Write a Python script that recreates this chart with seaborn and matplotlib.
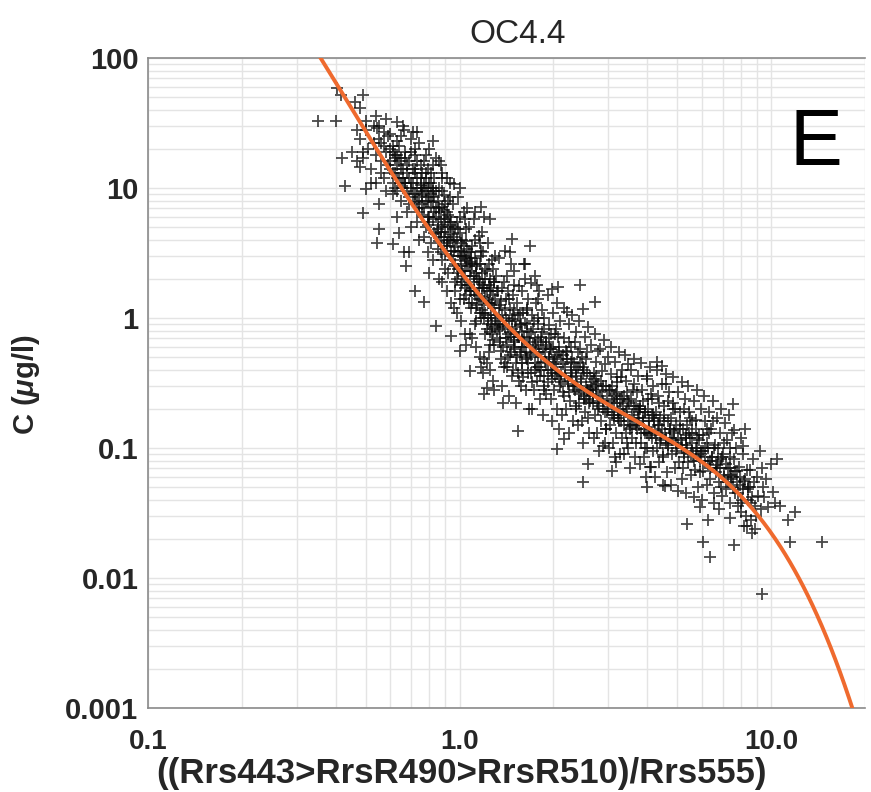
import numpy as np
import pandas as pd
import matplotlib
matplotlib.use("Agg")
import matplotlib.pyplot as plt
import seaborn as sns
from matplotlib.ticker import FixedLocator, LogLocator, NullFormatter

# ---------------- data ----------------
title = "OC4.4"
x_label = "((Rrs443>RrsR490>RrsR510)/Rrs555)"
y_label = "C ($\\mu$g/l)"
panel_letter = "E"
x_ticks = [0.1, 1.0, 10.0]
x_tick_labels = ["0.1", "1.0", "10.0"]
y_ticks = [0.001, 0.01, 0.1, 1, 10, 100]
y_tick_labels = ["0.001", "0.01", "0.1", "1", "10", "100"]

# OC4 v4 polynomial coefficients: log10(C) = sum a_i * log10(R)^i
oc4_coeffs = [0.366, -3.067, 1.930, 0.649, -1.532]

# in-situ points (band ratio, chlorophyll)
pts_high = [
    (0.48, 24), (0.49, 17), (0.50, 28), (0.51, 20), (0.52, 14), (0.50, 33), (0.53, 22), (0.52, 11), (0.49, 19), (0.53, 30),
    (0.54, 18), (0.55, 24), (0.56, 13), (0.57, 21), (0.58, 9.5), (0.55, 30), (0.56, 16), (0.57, 27), (0.58, 19), (0.54, 11),
    (0.59, 15), (0.56, 22), (0.58, 34), (0.55, 7.5), (0.57, 12), (0.59, 25),
    (0.60, 14), (0.61, 19), (0.62, 10), (0.63, 23), (0.64, 16), (0.65, 8.0), (0.66, 12), (0.60, 26), (0.61, 11), (0.62, 17),
    (0.63, 6.0), (0.64, 21), (0.65, 14), (0.66, 30), (0.61, 9.0), (0.62, 13), (0.63, 18), (0.64, 4.5), (0.65, 25), (0.60, 20),
    (0.66, 10), (0.63, 12),
    (0.67, 11), (0.68, 15), (0.69, 7.5), (0.70, 19), (0.71, 9.0), (0.72, 13), (0.73, 5.5), (0.74, 22), (0.75, 10), (0.67, 17),
    (0.68, 6.5), (0.69, 12), (0.70, 24), (0.71, 14), (0.72, 8.0), (0.73, 16), (0.74, 4.0), (0.75, 12), (0.68, 9.5), (0.70, 11),
    (0.72, 18), (0.74, 7.0), (0.69, 3.2), (0.71, 27), (0.73, 10), (0.75, 15), (0.70, 5.0), (0.72, 20),
    (0.76, 7.5), (0.77, 11), (0.78, 5.0), (0.79, 14), (0.80, 8.5), (0.81, 3.8), (0.82, 10), (0.83, 6.5), (0.84, 17), (0.76, 9.5),
    (0.77, 4.2), (0.78, 13), (0.79, 6.0), (0.80, 20), (0.81, 9.0), (0.82, 2.8), (0.83, 12), (0.84, 7.0), (0.77, 16), (0.78, 8.0),
    (0.79, 3.2), (0.80, 5.5), (0.81, 11), (0.82, 15), (0.83, 4.5), (0.84, 9.5), (0.76, 6.2), (0.78, 18), (0.80, 2.2), (0.82, 7.8),
    (0.79, 10), (0.81, 13),
    (0.85, 4.8), (0.86, 7.0), (0.87, 3.2), (0.88, 9.5), (0.89, 5.5), (0.90, 2.4), (0.91, 6.5), (0.92, 4.0), (0.93, 11), (0.94, 3.0),
    (0.85, 8.0), (0.86, 2.0), (0.87, 5.8), (0.88, 13), (0.89, 3.6), (0.90, 7.5), (0.91, 1.6), (0.92, 5.0), (0.93, 8.5), (0.94, 4.4),
    (0.86, 10), (0.87, 4.2), (0.88, 2.8), (0.89, 6.8), (0.90, 4.6), (0.91, 12), (0.92, 2.2), (0.93, 6.0), (0.94, 1.3), (0.85, 3.4),
    (0.87, 15), (0.89, 8.8), (0.91, 3.8), (0.93, 5.2), (0.88, 1.9),
]
pts_mid1 = [
    (0.95, 2.8), (0.96, 4.2), (0.97, 1.9), (0.98, 5.5), (0.99, 3.2), (1.00, 1.4), (1.01, 3.8), (1.02, 2.3), (1.03, 6.5), (1.04, 1.7),
    (1.05, 4.8), (1.06, 2.6), (0.95, 7.5), (0.96, 1.2), (0.97, 3.5), (0.98, 2.0), (0.99, 8.5), (1.00, 4.5), (1.01, 0.95), (1.02, 3.0),
    (1.03, 2.1), (1.04, 5.8), (1.05, 1.5), (1.06, 3.4), (0.96, 2.5), (0.98, 1.1), (1.00, 6.0), (1.02, 4.0), (1.04, 0.75), (1.06, 7.0),
    (0.97, 5.0), (0.99, 2.4), (1.01, 1.8), (1.03, 3.0), (1.05, 0.62), (0.95, 3.9), (1.00, 10), (1.04, 2.9),
    (1.07, 1.8), (1.08, 2.7), (1.09, 1.2), (1.10, 3.6), (1.11, 2.1), (1.12, 0.9), (1.13, 2.5), (1.14, 1.5), (1.15, 4.3), (1.16, 1.1),
    (1.17, 3.0), (1.18, 1.7), (1.07, 5.0), (1.08, 0.75), (1.09, 2.3), (1.10, 1.3), (1.11, 5.8), (1.12, 2.9), (1.13, 0.6), (1.14, 2.0),
    (1.15, 1.4), (1.16, 3.8), (1.17, 1.0), (1.18, 2.2), (1.08, 1.6), (1.10, 0.7), (1.12, 4.0), (1.14, 2.6), (1.16, 0.5), (1.18, 4.6),
    (1.09, 3.2), (1.11, 1.6), (1.13, 1.2), (1.15, 2.0), (1.17, 0.42), (1.07, 2.5), (1.12, 6.5), (1.16, 1.9),
    (1.19, 1.1), (1.20, 1.7), (1.21, 0.75), (1.22, 2.3), (1.23, 1.3), (1.24, 0.55), (1.25, 1.6), (1.26, 0.95), (1.27, 2.8), (1.28, 0.68),
    (1.29, 1.9), (1.30, 1.05), (1.19, 3.2), (1.20, 0.48), (1.21, 1.45), (1.22, 0.82), (1.23, 3.8), (1.24, 1.8), (1.25, 0.4), (1.26, 1.25),
    (1.27, 0.88), (1.28, 2.4), (1.29, 0.62), (1.30, 1.4), (1.20, 1.0), (1.22, 0.45), (1.24, 2.6), (1.26, 1.7), (1.28, 0.33), (1.30, 3.0),
    (1.21, 2.0), (1.23, 1.0), (1.25, 0.78), (1.27, 1.3), (1.29, 0.28), (1.32, 1.6), (1.33, 0.9), (1.31, 2.1),
    (1.34, 0.83), (1.35, 1.25), (1.36, 0.56), (1.37, 1.7), (1.38, 0.95), (1.39, 0.42), (1.40, 1.15), (1.41, 0.7), (1.42, 2.1), (1.43, 0.5),
    (1.44, 1.4), (1.45, 0.78), (1.46, 2.6), (1.47, 0.36), (1.48, 1.05), (1.49, 0.6), (1.34, 2.9), (1.35, 0.65), (1.36, 1.35), (1.37, 0.3),
    (1.38, 0.88), (1.39, 1.9), (1.40, 0.45), (1.41, 1.0), (1.42, 0.62), (1.43, 1.6), (1.44, 0.25), (1.45, 1.2), (1.46, 0.72), (1.47, 0.98),
    (1.48, 0.4), (1.49, 1.8), (1.35, 0.9), (1.40, 3.3), (1.45, 0.52), (1.38, 0.22),
]
pts_mid2 = [
    (1.50, 0.65), (1.51, 0.95), (1.52, 0.45), (1.53, 1.3), (1.54, 0.72), (1.55, 0.33), (1.56, 0.88), (1.57, 0.55), (1.58, 1.6), (1.59, 0.4),
    (1.60, 1.1), (1.61, 0.6), (1.62, 2.0), (1.63, 0.28), (1.64, 0.8), (1.65, 0.48), (1.66, 1.4), (1.67, 0.7), (1.50, 2.3), (1.52, 0.22),
    (1.54, 1.05), (1.56, 0.52), (1.58, 0.78), (1.60, 0.35), (1.62, 0.92), (1.64, 1.2), (1.66, 0.38), (1.51, 0.58), (1.55, 1.75), (1.59, 0.68),
    (1.63, 0.5), (1.67, 0.2), (1.57, 0.3), (1.61, 2.6),
    (1.68, 0.54), (1.69, 0.78), (1.70, 0.38), (1.71, 1.05), (1.72, 0.6), (1.73, 0.28), (1.74, 0.7), (1.75, 0.45), (1.76, 1.3), (1.77, 0.33),
    (1.78, 0.9), (1.79, 0.5), (1.80, 1.6), (1.81, 0.24), (1.82, 0.65), (1.83, 0.4), (1.84, 1.15), (1.85, 0.58), (1.86, 0.3), (1.87, 0.82),
    (1.88, 0.46), (1.69, 1.85), (1.71, 0.2), (1.73, 0.95), (1.75, 0.62), (1.77, 0.42), (1.79, 1.4), (1.81, 0.36), (1.83, 0.72), (1.85, 0.18),
    (1.87, 1.0), (1.80, 0.55),
    (1.89, 0.45), (1.90, 0.65), (1.92, 0.32), (1.93, 0.88), (1.94, 0.5), (1.96, 0.24), (1.97, 0.58), (1.98, 0.38), (2.00, 1.1), (2.01, 0.28),
    (2.02, 0.75), (2.04, 0.42), (2.05, 1.3), (2.06, 0.2), (2.08, 0.55), (2.09, 0.34), (2.10, 0.95), (2.11, 0.48), (1.90, 0.26), (1.92, 1.5),
    (1.94, 0.7), (1.96, 0.4), (1.98, 0.16), (2.00, 0.6), (2.02, 0.36), (2.04, 0.82), (2.06, 0.52), (2.08, 0.14), (2.10, 0.3), (2.01, 0.46),
    (2.12, 0.37), (2.14, 0.52), (2.15, 0.27), (2.17, 0.7), (2.18, 0.42), (2.20, 0.2), (2.21, 0.48), (2.23, 0.31), (2.24, 0.9), (2.26, 0.23),
    (2.27, 0.6), (2.29, 0.35), (2.30, 1.05), (2.32, 0.16), (2.33, 0.45), (2.35, 0.28), (2.36, 0.78), (2.37, 0.4), (2.13, 0.18), (2.16, 1.2),
    (2.19, 0.56), (2.22, 0.33), (2.25, 0.13), (2.28, 0.46), (2.31, 0.3), (2.34, 0.65), (2.36, 0.2), (2.27, 0.38),
]
pts_mid3 = [
    (2.38, 0.3), (2.40, 0.42), (2.42, 0.22), (2.43, 0.58), (2.45, 0.34), (2.47, 0.16), (2.48, 0.38), (2.50, 0.25), (2.52, 0.72), (2.53, 0.19),
    (2.55, 0.48), (2.57, 0.28), (2.58, 0.85), (2.60, 0.13), (2.62, 0.36), (2.63, 0.23), (2.65, 0.62), (2.66, 0.32), (2.39, 0.15), (2.41, 0.95),
    (2.44, 0.45), (2.46, 0.27), (2.49, 0.11), (2.51, 0.4), (2.54, 0.24), (2.56, 0.55), (2.59, 0.17), (2.64, 0.29),
    (2.67, 0.25), (2.69, 0.34), (2.71, 0.18), (2.73, 0.46), (2.75, 0.28), (2.77, 0.13), (2.79, 0.31), (2.81, 0.21), (2.83, 0.58), (2.85, 0.16),
    (2.87, 0.39), (2.89, 0.23), (2.91, 0.68), (2.93, 0.11), (2.95, 0.3), (2.97, 0.19), (2.99, 0.5), (2.68, 0.26), (2.70, 0.12), (2.72, 0.75),
    (2.74, 0.36), (2.76, 0.22), (2.80, 0.095), (2.84, 0.33), (2.88, 0.2), (2.92, 0.44), (2.96, 0.14), (2.86, 0.27),
    (3.00, 0.2), (3.02, 0.28), (3.04, 0.15), (3.06, 0.37), (3.08, 0.23), (3.10, 0.11), (3.12, 0.25), (3.14, 0.17), (3.16, 0.46), (3.18, 0.13),
    (3.20, 0.32), (3.22, 0.19), (3.24, 0.55), (3.26, 0.09), (3.28, 0.24), (3.30, 0.16), (3.32, 0.4), (3.34, 0.21), (3.01, 0.1), (3.05, 0.6),
    (3.09, 0.3), (3.13, 0.18), (3.17, 0.078), (3.21, 0.27), (3.25, 0.16), (3.29, 0.35), (3.33, 0.12), (3.19, 0.22),
    (3.36, 0.18), (3.38, 0.25), (3.41, 0.13), (3.43, 0.33), (3.45, 0.2), (3.48, 0.1), (3.50, 0.22), (3.52, 0.15), (3.55, 0.4), (3.57, 0.12),
    (3.59, 0.28), (3.62, 0.17), (3.64, 0.48), (3.66, 0.085), (3.69, 0.21), (3.71, 0.14), (3.73, 0.36), (3.76, 0.19), (3.37, 0.09), (3.40, 0.52),
    (3.44, 0.27), (3.47, 0.16), (3.51, 0.07), (3.54, 0.24), (3.58, 0.145), (3.63, 0.31), (3.68, 0.11), (3.74, 0.2),
]
pts_low1 = [
    (3.77, 0.15), (3.80, 0.21), (3.82, 0.11), (3.85, 0.28), (3.88, 0.17), (3.90, 0.085), (3.93, 0.19), (3.95, 0.13), (3.98, 0.34), (4.00, 0.1),
    (4.03, 0.24), (4.05, 0.145), (4.08, 0.42), (4.10, 0.072), (4.13, 0.18), (4.15, 0.12), (4.18, 0.3), (4.21, 0.16), (3.78, 0.075), (3.83, 0.45),
    (3.87, 0.23), (3.92, 0.14), (3.97, 0.06), (4.01, 0.2), (4.06, 0.125), (4.11, 0.26), (4.16, 0.095), (4.20, 0.17),
    (4.23, 0.135), (4.26, 0.19), (4.29, 0.1), (4.32, 0.25), (4.35, 0.15), (4.38, 0.078), (4.41, 0.17), (4.44, 0.115), (4.47, 0.31), (4.50, 0.088),
    (4.53, 0.21), (4.56, 0.13), (4.59, 0.37), (4.62, 0.065), (4.65, 0.16), (4.68, 0.105), (4.71, 0.27), (4.73, 0.14), (4.25, 0.06), (4.30, 0.4),
    (4.36, 0.22), (4.42, 0.125), (4.48, 0.052), (4.54, 0.18), (4.60, 0.11), (4.66, 0.23),
    (4.74, 0.12), (4.78, 0.17), (4.81, 0.09), (4.85, 0.22), (4.88, 0.135), (4.91, 0.07), (4.95, 0.15), (4.98, 0.1), (5.02, 0.27), (5.05, 0.078),
    (5.09, 0.19), (5.12, 0.115), (5.16, 0.32), (5.19, 0.058), (5.22, 0.14), (5.26, 0.092), (5.29, 0.24), (5.31, 0.125), (4.76, 0.052), (4.83, 0.35),
    (4.90, 0.2), (4.96, 0.11), (5.03, 0.047), (5.10, 0.16), (5.17, 0.1), (5.24, 0.2),
    (5.32, 0.105), (5.36, 0.15), (5.40, 0.078), (5.44, 0.19), (5.48, 0.12), (5.52, 0.062), (5.56, 0.13), (5.60, 0.088), (5.64, 0.23), (5.68, 0.068),
    (5.72, 0.165), (5.76, 0.1), (5.80, 0.28), (5.84, 0.05), (5.88, 0.125), (5.92, 0.08), (5.96, 0.2), (5.34, 0.045), (5.42, 0.3), (5.50, 0.17),
    (5.58, 0.095), (5.66, 0.042), (5.74, 0.14), (5.86, 0.115),
]
pts_low2 = [
    (5.97, 0.09), (6.02, 0.125), (6.06, 0.066), (6.11, 0.16), (6.15, 0.1), (6.20, 0.052), (6.24, 0.11), (6.29, 0.075), (6.33, 0.19), (6.38, 0.058),
    (6.42, 0.14), (6.47, 0.085), (6.51, 0.23), (6.56, 0.045), (6.60, 0.105), (6.64, 0.07), (6.68, 0.17), (6.00, 0.04), (6.09, 0.25), (6.22, 0.14),
    (6.36, 0.08), (6.54, 0.038),
    (6.70, 0.074), (6.75, 0.1), (6.80, 0.055), (6.85, 0.13), (6.90, 0.082), (6.95, 0.043), (7.00, 0.09), (7.05, 0.062), (7.10, 0.155), (7.15, 0.048),
    (7.20, 0.115), (7.25, 0.07), (7.30, 0.18), (7.35, 0.038), (7.40, 0.085), (7.45, 0.058), (7.50, 0.13), (6.78, 0.034), (6.92, 0.2), (7.08, 0.11),
    (7.52, 0.06), (7.58, 0.082), (7.64, 0.045), (7.70, 0.1), (7.76, 0.066), (7.82, 0.036), (7.88, 0.072), (7.94, 0.052), (8.00, 0.12), (8.06, 0.04),
    (8.12, 0.09), (8.18, 0.056), (8.24, 0.14), (8.30, 0.03), (8.36, 0.068), (8.40, 0.048),
    (8.45, 0.05), (8.55, 0.068), (8.64, 0.038), (8.73, 0.082), (8.82, 0.055), (8.91, 0.03), (9.00, 0.06), (9.10, 0.043), (9.20, 0.095), (9.28, 0.034),
    (9.35, 0.07), (9.40, 0.05), (9.50, 0.042), (9.65, 0.058), (9.80, 0.035), (9.95, 0.075), (10.1, 0.046), (10.3, 0.038),
    (8.2, 0.025), (8.6, 0.028), (8.9, 0.024), (8.0, 0.032),
]
pts_core = [
    (0.60, 16), (0.61, 13), (0.62, 18), (0.63, 15), (0.64, 12), (0.65, 17), (0.66, 14), (0.67, 11), (0.68, 13), (0.69, 16),
    (0.70, 10), (0.61, 21), (0.63, 9.5), (0.65, 11), (0.67, 19), (0.69, 8.5),
    (0.71, 11), (0.72, 9.0), (0.73, 12), (0.74, 8.5), (0.75, 10.5), (0.76, 13), (0.77, 7.0), (0.78, 9.5), (0.79, 8.0), (0.80, 11),
    (0.72, 14), (0.74, 6.5), (0.76, 8.8), (0.78, 12), (0.80, 6.0), (0.73, 7.8), (0.77, 10), (0.79, 5.2),
    (0.81, 7.2), (0.82, 5.8), (0.83, 8.5), (0.84, 6.0), (0.85, 5.2), (0.86, 6.5), (0.87, 4.6), (0.88, 7.2), (0.89, 4.2), (0.90, 5.8),
    (0.91, 3.6), (0.92, 6.2), (0.93, 4.0), (0.94, 3.3), (0.95, 4.8), (0.82, 9.5), (0.84, 4.4), (0.86, 3.9), (0.88, 5.0), (0.90, 3.1),
    (0.92, 8.0), (0.94, 5.5),
    (0.96, 3.3), (0.97, 2.6), (0.98, 4.0), (0.99, 2.2), (1.00, 3.0), (1.01, 2.5), (1.02, 1.9), (1.03, 3.6), (1.04, 2.3), (1.05, 2.8),
    (1.06, 1.8), (1.07, 3.2), (1.08, 2.1), (1.09, 1.6), (1.10, 2.6), (0.97, 1.6), (0.99, 4.8), (1.01, 3.3), (1.03, 1.4), (1.05, 3.9),
    (1.07, 1.3), (1.09, 2.9),
    (1.11, 1.9), (1.12, 1.5), (1.13, 2.2), (1.14, 1.25), (1.15, 1.7), (1.16, 2.6), (1.17, 1.4), (1.18, 1.15), (1.19, 1.8), (1.20, 1.35),
    (1.21, 1.1), (1.22, 1.6), (1.23, 0.9), (1.24, 1.3), (1.25, 2.0), (1.26, 1.05), (1.27, 0.75), (1.28, 1.5), (1.29, 1.2), (1.30, 0.85),
    (1.13, 0.95), (1.17, 3.3), (1.21, 2.4), (1.25, 0.62), (1.29, 1.9),
    (1.31, 1.0), (1.32, 0.8), (1.34, 1.2), (1.35, 0.7), (1.37, 1.05), (1.38, 0.6), (1.40, 0.85), (1.41, 1.4), (1.43, 0.75), (1.44, 0.95),
    (1.46, 0.55), (1.47, 0.82), (1.49, 1.15), (1.50, 0.68), (1.52, 0.85), (1.53, 0.5), (1.55, 0.72), (1.56, 1.1), (1.58, 0.6), (1.59, 0.45),
    (1.33, 1.6), (1.36, 0.48), (1.42, 0.42), (1.48, 1.5), (1.54, 0.38), (1.57, 0.9),
    (1.61, 0.72), (1.63, 0.55), (1.65, 0.9), (1.66, 0.45), (1.68, 0.65), (1.70, 0.52), (1.72, 0.82), (1.74, 0.4), (1.76, 0.58), (1.78, 0.68),
    (1.80, 0.42), (1.82, 0.5), (1.84, 0.78), (1.86, 0.36), (1.88, 0.55), (1.90, 0.62), (1.92, 0.4), (1.94, 0.48), (1.96, 0.75), (1.98, 0.34),
    (2.00, 0.44), (1.64, 1.15), (1.71, 0.32), (1.79, 1.0), (1.87, 0.28), (1.95, 0.58),
    (2.03, 0.5), (2.06, 0.38), (2.09, 0.6), (2.12, 0.32), (2.15, 0.44), (2.18, 0.36), (2.21, 0.55), (2.24, 0.27), (2.27, 0.4), (2.30, 0.48),
    (2.33, 0.3), (2.36, 0.36), (2.39, 0.55), (2.42, 0.26), (2.45, 0.32), (2.48, 0.42), (2.51, 0.24), (2.54, 0.3), (2.57, 0.38), (2.60, 0.22),
    (2.07, 0.72), (2.16, 0.25), (2.25, 0.65), (2.37, 0.21), (2.47, 0.5), (2.58, 0.28),
    (2.63, 0.28), (2.68, 0.22), (2.73, 0.3), (2.78, 0.2), (2.83, 0.25), (2.88, 0.3), (2.93, 0.19), (2.98, 0.24), (3.03, 0.28), (3.08, 0.18),
    (3.13, 0.22), (3.18, 0.26), (3.23, 0.17), (3.28, 0.2), (3.33, 0.24), (3.38, 0.15), (3.43, 0.19), (3.48, 0.23), (3.53, 0.14), (3.58, 0.18),
    (3.63, 0.21), (3.68, 0.15), (3.73, 0.17), (3.78, 0.2), (3.83, 0.13), (3.88, 0.16), (3.93, 0.19), (3.98, 0.13), (2.70, 0.38), (2.95, 0.14),
    (3.20, 0.35), (3.45, 0.11), (3.70, 0.27), (3.95, 0.1),
    (4.05, 0.16), (4.12, 0.13), (4.19, 0.18), (4.26, 0.12), (4.33, 0.15), (4.40, 0.11), (4.47, 0.14), (4.54, 0.16), (4.61, 0.12), (4.68, 0.1),
    (4.75, 0.14), (4.82, 0.115), (4.89, 0.13), (4.96, 0.095), (5.03, 0.12), (5.10, 0.14), (5.17, 0.105), (5.24, 0.085), (5.31, 0.12), (5.38, 0.1),
    (5.45, 0.13), (5.52, 0.09), (5.59, 0.11), (5.66, 0.08), (5.73, 0.1), (5.80, 0.12), (5.87, 0.085), (5.94, 0.095), (4.15, 0.24), (4.50, 0.085),
    (4.85, 0.2), (5.20, 0.07), (5.55, 0.16), (5.90, 0.065),
    (6.05, 0.095), (6.15, 0.08), (6.25, 0.1), (6.35, 0.07), (6.45, 0.085), (6.55, 0.1), (6.65, 0.065), (6.75, 0.08), (6.85, 0.07), (6.95, 0.085),
    (7.05, 0.06), (7.15, 0.075), (7.25, 0.055), (7.35, 0.07), (7.45, 0.062), (7.55, 0.05), (7.65, 0.066), (7.75, 0.055), (7.85, 0.045), (7.95, 0.06),
    (8.10, 0.048), (8.25, 0.058), (8.40, 0.04), (8.55, 0.05), (8.70, 0.042), (8.85, 0.036), (6.30, 0.13), (6.90, 0.05), (7.40, 0.1), (8.00, 0.038),
]
pts_edges = [
    (0.35, 33), (0.40, 33), (0.405, 59), (0.415, 52), (0.49, 52), (0.46, 46), (0.48, 41), (0.54, 36), (0.47, 28), (0.545, 29),
    (0.63, 32), (0.665, 28), (0.73, 27), (0.82, 23), (0.42, 17), (0.45, 19), (0.47, 16), (0.48, 14.5), (0.43, 10.4), (0.50, 9.8),
    (0.86, 16), (0.88, 12), (0.96, 10.7),
    (0.49, 6.4), (0.55, 4.8), (0.545, 3.8), (0.61, 3.7), (0.665, 3.2), (0.675, 2.5), (0.72, 1.6), (0.77, 1.33), (0.84, 0.87), (0.94, 0.73),
    (1.0, 0.56), (1.08, 0.39), (1.19, 0.38), (1.22, 0.29), (1.2, 0.26), (1.54, 0.135), (2.17, 0.117), (2.05, 0.098), (2.58, 0.075),
    (2.49, 0.055), (3.08, 0.067), (3.15, 0.085), (2.88, 0.104),
    (1.17, 7.1), (1.2, 6.0), (1.25, 5.8), (1.47, 4.05), (1.68, 3.6), (1.45, 3.2), (1.62, 2.6), (1.74, 2.1), (1.77, 1.8), (1.98, 1.67),
    (2.07, 1.73), (2.43, 1.79), (2.72, 1.33), (2.49, 1.17), (2.21, 1.11), (2.78, 0.56), (3.47, 0.44), (4.3, 0.46), (4.45, 0.43), (4.0, 0.36),
    (4.6, 0.31), (7.55, 0.218), (6.5, 0.16), (7.6, 0.138), (8.1, 0.104), (10.4, 0.082),
    (4.08, 0.071), (4.0, 0.050), (4.55, 0.051), (5.37, 0.026), (5.9, 0.035), (6.27, 0.028), (6.05, 0.019), (6.35, 0.0145), (7.6, 0.018),
    (7.35, 0.029), (8.7, 0.022), (8.35, 0.025), (10.7, 0.036), (11.9, 0.032), (11.3, 0.028), (14.6, 0.019), (11.5, 0.019), (9.35, 0.0075),
]

# ---------------- build tables ----------------
all_pts = pts_high + pts_mid1 + pts_mid2 + pts_mid3 + pts_low1 + pts_low2 + pts_core + pts_edges
df = pd.DataFrame(all_pts, columns=["ratio", "chl"])

curve_ratio = np.logspace(np.log10(0.3), np.log10(20), 500)
lr = np.log10(curve_ratio)
curve_chl = 10 ** sum(a * lr ** i for i, a in enumerate(oc4_coeffs))
curve_df = pd.DataFrame({"ratio": curve_ratio, "chl": curve_chl})

# ---------------- figure ----------------
sns.set_style("white")
plt.rcParams["font.family"] = ["Liberation Sans", "DejaVu Sans"]
plt.rcParams["mathtext.fontset"] = "custom"
plt.rcParams["mathtext.it"] = "Liberation Sans:italic:bold"
plt.rcParams["mathtext.rm"] = "Liberation Sans"
plt.rcParams["mathtext.bf"] = "Liberation Sans:bold"

fig = plt.figure(figsize=(8.71, 7.92), dpi=100)
ax = fig.add_axes([148 / 871, 1 - 708 / 792, (865 - 148) / 871, (708 - 58) / 792])
ax.set_xscale("log")
ax.set_yscale("log")

sns.scatterplot(data=df, x="ratio", y="chl", ax=ax, marker="+", s=66,
                color="#0a0a0a", linewidth=1.3, alpha=0.75, zorder=3, legend=False)
sns.lineplot(data=curve_df, x="ratio", y="chl", ax=ax, color="#EF6A2E",
             linewidth=2.8, zorder=4, sort=False, estimator=None)

ax.set_xlim(0.1, 20)
ax.set_ylim(0.001, 100)

ax.xaxis.set_major_locator(FixedLocator(x_ticks))
ax.set_xticklabels(x_tick_labels)
ax.yaxis.set_major_locator(FixedLocator(y_ticks))
ax.set_yticklabels(y_tick_labels)
ax.xaxis.set_minor_locator(LogLocator(base=10, subs=np.arange(2, 10)))
ax.yaxis.set_minor_locator(LogLocator(base=10, subs=np.arange(2, 10)))
ax.xaxis.set_minor_formatter(NullFormatter())
ax.yaxis.set_minor_formatter(NullFormatter())

ax.grid(True, which="both", color="#e4e4e4", linewidth=1.0, zorder=0)
ax.set_axisbelow(True)
ax.tick_params(axis="both", which="both", length=0)
ax.tick_params(axis="x", pad=15, labelsize=20)
ax.tick_params(axis="y", pad=7, labelsize=21)
for lab in ax.get_yticklabels() + ax.get_xticklabels():
    lab.set_fontweight("bold")

for sp in ax.spines.values():
    sp.set_color("#8a8a8a")
    sp.set_linewidth(1.2)
ax.spines["right"].set_visible(False)

ax.set_title(title, fontsize=24, pad=11, x=0.515)
ax.set_xlabel(x_label, fontsize=25, fontweight="bold")
ax.xaxis.set_label_coords(0.437, -0.076)
ax.xaxis.label.set_va("top")
ax.set_ylabel(y_label, fontsize=21, fontweight="bold")
ax.yaxis.set_label_coords(-0.148, 0.497)

ax.text(0.968, 0.835, panel_letter, transform=ax.transAxes, ha="right",
        va="baseline", fontsize=57, color="black")

fig.savefig("out.png", dpi=100)
